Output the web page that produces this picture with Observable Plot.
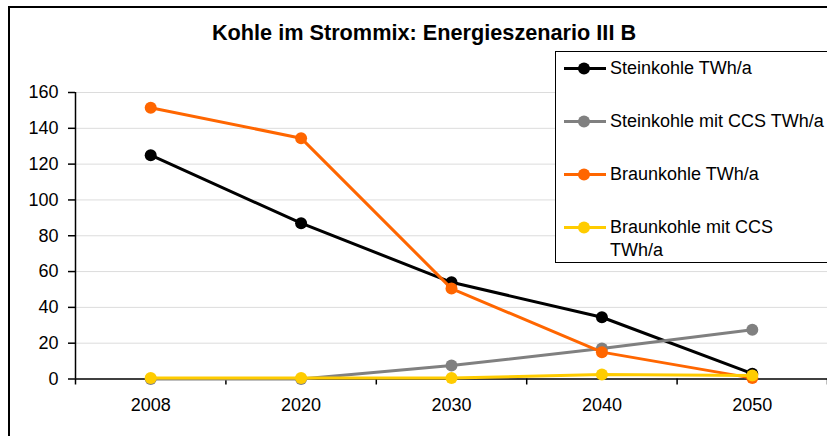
<!DOCTYPE html>
<html><head><meta charset="utf-8">
<script src="https://cdn.jsdelivr.net/npm/d3@7"></script>
<script src="https://cdn.jsdelivr.net/npm/@observablehq/plot@0.6"></script>
<style>
body{margin:0;background:#fff;}
#wrap{position:relative;width:827px;height:436px;overflow:hidden;background:#fff;font-family:"Liberation Sans",Arial,sans-serif;}
#frame{position:absolute;left:8px;top:6px;width:900px;height:500px;border:2px solid #000;}
#plot{position:absolute;left:0;top:0;}
#title{position:absolute;left:0;width:848px;top:21px;text-align:center;font-weight:bold;font-size:21.7px;line-height:24px;color:#000;}
#legend{position:absolute;left:555px;top:51px;width:300px;height:210px;border:1px solid #000;background:#fff;}
.row{position:absolute;left:0;}
.row svg{position:absolute;left:7px;}
.row span{position:absolute;left:54px;font-size:18px;line-height:23px;white-space:nowrap;color:#000;}
</style></head>
<body>
<div id="wrap">
  <div id="frame"></div>
  <div id="plot"></div>
  <div id="title">Kohle im Strommix: Energieszenario III B</div>
  <div id="legend"></div>
</div>
<script>
const years = ["2008","2020","2030","2040","2050"];
const seriesNames = ["Steinkohle TWh/a","Steinkohle mit CCS TWh/a","Braunkohle TWh/a","Braunkohle mit CCS TWh/a"];
const steinkohle = [125, 87, 54, 34.5, 3];
const steinkohleCCS = [0, 0, 7.5, 17, 27.5];
const braunkohle = [151.5, 134.5, 50.5, 15, 0.5];
const braunkohleCCS = [0.5, 0.5, 0.5, 2.5, 2];
const colors = ["#000000","#808080","#ff6600","#ffcc00"];
const yTicks = [0,20,40,60,80,100,120,140,160];

const allSeries = [steinkohle, steinkohleCCS, braunkohle, braunkohleCCS];
const data = allSeries.map((vals, s) => vals.map((v, i) => ({series: seriesNames[s], i, v})));

const marks = [
  Plot.gridY(yTicks.filter(d => d > 0), {stroke: "#dcdcdc", strokeOpacity: 1, strokeWidth: 1}),
  Plot.axisY({ticks: yTicks, tickSize: 7, tickPadding: 10, fontSize: 18, label: null, stroke: "#000", strokeWidth: 1.5}),
  Plot.axisX({ticks: d3.range(-0.5, 5, 1), tickSize: 6, tickFormat: () => "", label: null, stroke: "#000", strokeWidth: 1.5}),
  Plot.axisX({ticks: d3.range(0, 5), tickSize: 0, tickPadding: 19, tickFormat: i => years[i], fontSize: 18, label: null}),
  Plot.ruleX([-0.5], {y1: 0, y2: 160, stroke: "#000", strokeWidth: 1.5}),
  Plot.ruleY([0], {stroke: "#000", strokeWidth: 1.5})
];
data.forEach((d, s) => {
  marks.push(Plot.line(d, {x: "i", y: "v", stroke: colors[s], strokeWidth: 3}));
  marks.push(Plot.dot(d, {x: "i", y: "v", fill: colors[s], r: 6}));
});

const chart = Plot.plot({
  width: 827, height: 436,
  marginLeft: 75, marginRight: 0, marginTop: 92, marginBottom: 57.5,
  style: {fontFamily: "Liberation Sans, Arial, sans-serif", color: "#000", background: "transparent", overflow: "visible"},
  x: {domain: [-0.5, 4.5], axis: null},
  y: {domain: [0, 160], axis: null},
  marks
});
document.getElementById("plot").appendChild(chart);

const legend = document.getElementById("legend");
const rowTops = [5, 58, 111, 164];
seriesNames.forEach((name, s) => {
  const row = document.createElement("div");
  row.className = "row";
  row.style.top = rowTops[s] + "px";
  const label = s === 3 ? "Braunkohle mit CCS<br>TWh/a" : name;
  row.innerHTML = `<svg width="44" height="23" style="top:0"><line x1="1" x2="43" y1="11.5" y2="11.5" stroke="${colors[s]}" stroke-width="3"/><circle cx="21" cy="11.5" r="6" fill="${colors[s]}"/></svg><span style="top:0">${label}</span>`;
  legend.appendChild(row);
});
</script>
</body></html>
